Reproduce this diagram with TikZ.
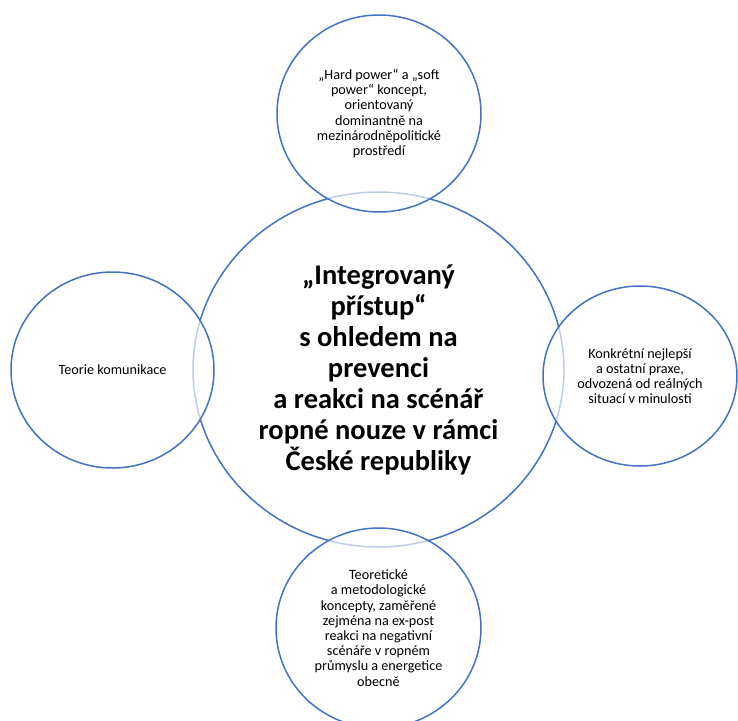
\documentclass[tikz,border=0pt]{standalone}
\usepackage{fontspec}
\setmainfont{Carlito}
\usetikzlibrary{shapes.geometric}
\definecolor{ringblue}{HTML}{4472C4}

\begin{document}
\begin{tikzpicture}[x=1pt,y=-1pt,
  ring/.style={ellipse,draw=ringblue,line width=1.5pt,fill=white,inner sep=0pt,
    align=center,font=\fontsize{14.2}{15.2}\selectfont},
  sidering/.style={ring,fill opacity=0.65,text opacity=1}]
\useasboundingbox (0,0) rectangle (738,720);
% centre
\node[ring,minimum width=371pt,minimum height=355pt,
  font=\fontsize{28.5}{31}\selectfont\bfseries] (core) at (378.5,369.5)
  {„Integrovaný\\přístup“\\s ohledem na\\prevenci\\a reakci na scénář\\ropné nouze v rámci\\České republiky};
% surrounding circles
\node[sidering,minimum width=204pt,minimum height=197pt] (power) at (379,113.5)
  {„Hard power“ a „soft\\power“ koncept,\\orientovaný\\dominantně na\\mezinárodněpolitické\\prostředí};
\node[sidering,minimum width=203pt,minimum height=196pt] (comm) at (112.5,370)
  {Teorie komunikace};
\node[sidering,minimum width=194pt,minimum height=180pt] (praxe) at (640,376)
  {Konkrétní nejlepší\\a ostatní praxe,\\odvozená od reálných\\situací v minulosti};
\node[sidering,minimum width=205pt,minimum height=200pt] (theory) at (378.5,628)
  {Teoretické\\a metodologické\\koncepty, zaměřené\\zejména na ex-post\\reakci na negativní\\scénáře v ropném\\průmyslu a energetice\\obecně};
\end{tikzpicture}
\end{document}
